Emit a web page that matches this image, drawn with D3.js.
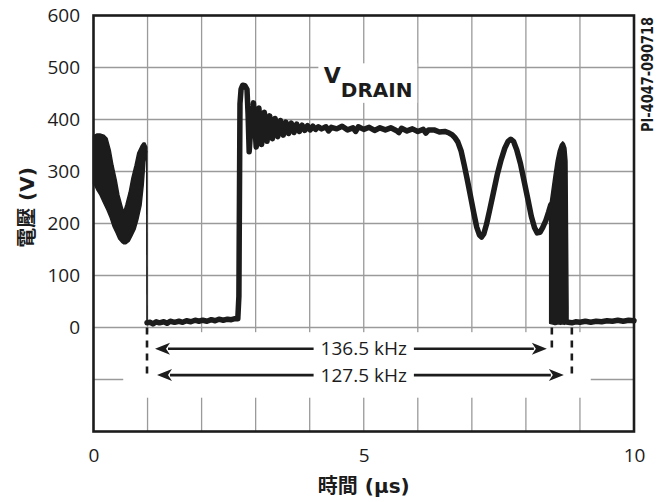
<!DOCTYPE html>
<html>
<head>
<meta charset="utf-8">
<script src="https://cdn.jsdelivr.net/npm/d3@7"></script>
<style>
  html, body { margin: 0; padding: 0; background: #fff; }
  svg { display: block; }
</style>
</head>
<body>
<svg id="chart" width="662" height="502"></svg>
<script>
// ---- Drain voltage trace (time in µs, voltage in V) ----
const traceTime = [
  0.99, 1.05, 1.10, 1.16, 1.22, 1.30, 1.36, 1.42, 1.50, 1.58, 1.65, 1.72, 1.80, 1.88, 1.95,
  2.02, 2.10, 2.18, 2.25, 2.32, 2.40, 2.48, 2.55, 2.62, 2.67,
  2.69, 2.71, 2.73, 2.76, 2.80, 2.84, 2.86, 2.88,
  2.92, 2.96, 3.01, 3.06, 3.11, 3.16, 3.21, 3.26, 3.31, 3.36, 3.41, 3.46, 3.51, 3.56, 3.61,
  3.66, 3.71, 3.76, 3.81, 3.86, 3.91, 3.96, 4.01, 4.06, 4.11, 4.16, 4.22,
  4.30, 4.35, 4.40, 4.50, 4.60, 4.70, 4.80, 4.85, 4.90, 5.00, 5.10, 5.20, 5.30, 5.40, 5.50,
  5.60, 5.65, 5.70, 5.80, 5.90, 6.00, 6.10, 6.15, 6.20, 6.30, 6.40, 6.50, 6.58, 6.63, 6.68,
  6.74, 6.80, 6.86, 6.92, 6.98, 7.04, 7.09, 7.14, 7.18, 7.22, 7.27, 7.33, 7.40, 7.47, 7.54,
  7.61, 7.67, 7.72, 7.77, 7.83, 7.90, 7.97, 8.04, 8.10, 8.16, 8.21, 8.26, 8.31, 8.37, 8.42, 8.46
];
const traceVolt = [
  9, 10, 7, 11, 9, 11, 8, 12, 10, 12, 10, 13, 11, 14, 12,
  14, 12, 15, 13, 16, 14, 16, 15, 17, 17,
  60, 430, 458, 466, 465, 458, 410, 338,
  398, 432, 347, 422, 352, 414, 358, 407, 363, 402, 367, 398, 370, 395, 373,
  393, 375, 391, 377, 389, 379, 388, 380, 387, 381, 386, 382,
  386, 378, 385, 382, 387, 380, 384, 377, 386, 381, 385, 379, 384, 380, 384,
  379, 375, 383, 378, 382, 377, 381, 374, 380, 380, 376, 377, 374, 371, 366,
  357, 340, 312, 282, 250, 218, 193, 178, 174, 180, 198, 226, 260, 294, 322,
  345, 358, 362, 358, 342, 315, 280, 245, 214, 192, 182, 183, 192, 206, 222, 236
];

// Trace after the turn-off ringing
const tailTime = [8.78, 8.85, 8.92, 9.00, 9.10, 9.20, 9.30, 9.40, 9.50, 9.60, 9.70, 9.80, 9.90, 10.0];
const tailVolt = [10, 9, 11, 10, 12, 10, 12, 11, 13, 12, 14, 12, 14, 13];

// Fast turn-off edge at the start of the on-time
const edgeTime = [0.985, 0.99];
const edgeVolt = [340, 9];

// High-frequency ringing envelopes (upper / lower bounds)
const ringATime = [0.00, 0.02, 0.065, 0.12, 0.19, 0.25, 0.31, 0.36, 0.42, 0.47, 0.53, 0.56,
                   0.60, 0.66, 0.71, 0.77, 0.82, 0.88, 0.92, 0.95, 0.985];
const ringAHigh = [368, 370, 372, 372, 370, 364, 341, 312, 284, 255, 232, 222,
                   236, 260, 287, 312, 336, 349, 355, 355, 347];
const ringALow  = [276, 274, 264, 255, 239, 226, 211, 195, 182, 170, 163, 161,
                   161, 166, 176, 189, 207, 235, 274, 318, 340];

const ringBTime = [8.44, 8.48, 8.52, 8.56, 8.60, 8.64, 8.68, 8.71, 8.74, 8.76, 8.78];
const ringBHigh = [232, 262, 292, 320, 340, 352, 357, 354, 345, 320, 40];
const ringBLow  = [8, 7, 6, 6, 7, 6, 7, 6, 7, 8, 8];

// Axis ticks
const xTicks = [0, 5, 10];
const yTicks = [0, 100, 200, 300, 400, 500, 600];
const xGrid = [1, 2, 3, 4, 5, 6, 7, 8, 9];
const yGrid = [-100, 0, 100, 200, 300, 400, 500];

// Switching-period cursors and their frequency labels
const cursorTime = [0.99, 8.48, 8.85];
const cursorDepth = [-97, -49, -97];
const freqLabels = ["136.5 kHz", "127.5 kHz"];
const freqEnd = [8.48, 8.85];

// ---- Drawing ----
const svg = d3.select("#chart");
const ink = "#1c1c1c";
const x = d3.scaleLinear().domain([0, 10]).range([93.5, 634]);
const y = d3.scaleLinear().domain([-200, 600]).range([431.5, 15.5]);

const grid = svg.append("g").attr("stroke", "#9a9a9a").attr("stroke-width", 1.3);
grid.selectAll("line.v").data(xGrid).join("line")
  .attr("x1", d => x(d)).attr("x2", d => x(d))
  .attr("y1", y(600)).attr("y2", y(-200));
grid.selectAll("line.h").data(yGrid).join("line")
  .attr("x1", x(0)).attr("x2", x(10))
  .attr("y1", d => y(d)).attr("y2", d => y(d));

// Clear band under the zero line for the period annotations
svg.append("rect")
  .attr("x", x(0.55)).attr("y", y(-9))
  .attr("width", x(9.2) - x(0.55)).attr("height", y(-135) - y(-9))
  .attr("fill", "#fff");

// Clear patch behind the V_DRAIN label
svg.append("rect")
  .attr("x", x(4.16)).attr("y", y(508))
  .attr("width", x(5.99) - x(4.16)).attr("height", y(432) - y(508))
  .attr("fill", "#fff");

// Frame
svg.append("rect")
  .attr("x", x(0)).attr("y", y(600))
  .attr("width", x(10) - x(0)).attr("height", y(-200) - y(600))
  .attr("fill", "none").attr("stroke", ink).attr("stroke-width", 2.6);

// Ringing envelopes
const band = d3.area().x(d => x(d[0])).y0(d => y(d[2])).y1(d => y(d[1]));
[[ringATime, ringAHigh, ringALow], [ringBTime, ringBHigh, ringBLow]].forEach(([t, hi, lo]) => {
  svg.append("path")
    .datum(t.map((d, i) => [d, hi[i], lo[i]]))
    .attr("d", band)
    .attr("fill", ink).attr("stroke", ink).attr("stroke-width", 1.5)
    .attr("stroke-linejoin", "round");
});

const line = d3.line().x(d => x(d[0])).y(d => y(d[1]));
svg.append("path")
  .datum(edgeTime.map((d, i) => [d, edgeVolt[i]]))
  .attr("d", line).attr("fill", "none").attr("stroke", ink).attr("stroke-width", 1.6);

[[traceTime, traceVolt], [tailTime, tailVolt]].forEach(([t, v]) => {
  svg.append("path")
    .datum(t.map((d, i) => [d, v[i]]))
    .attr("d", line)
    .attr("fill", "none").attr("stroke", ink).attr("stroke-width", 5.5)
    .attr("stroke-linejoin", "round").attr("stroke-linecap", "round");
});

// Cursor lines
svg.append("g").selectAll("line").data(cursorTime).join("line")
  .attr("x1", d => x(d)).attr("x2", d => x(d))
  .attr("y1", y(0)).attr("y2", (d, i) => y(cursorDepth[i]))
  .attr("stroke", ink).attr("stroke-width", 2.6).attr("stroke-dasharray", "7,6");

// Frequency arrows
const rowLevel = [-41, -91.5];
const textFont = "'Open Sans', 'DejaVu Sans', sans-serif";
freqLabels.forEach((label, i) => {
  const yy = y(rowLevel[i]);
  const g = svg.append("g");
  const txt = g.append("text")
    .attr("x", x(5)).attr("y", yy).attr("dy", "0.35em")
    .attr("text-anchor", "middle")
    .attr("font-family", textFont).attr("font-size", 19).attr("fill", ink)
    .text(label);
  const half = txt.node().getComputedTextLength() / 2;
  const leftTip = x(cursorTime[0]) + 8 + (i ? 2 : 0);
  const rightTip = x(freqEnd[i]) - (i ? 8 : 5);
  const gap = 7, head = 15, hw = 6;
  g.append("line").attr("x1", leftTip + head - 2).attr("x2", x(5) - half - gap)
    .attr("y1", yy).attr("y2", yy).attr("stroke", ink).attr("stroke-width", 2.6);
  g.append("line").attr("x1", x(5) + half + gap).attr("x2", rightTip - head + 2)
    .attr("y1", yy).attr("y2", yy).attr("stroke", ink).attr("stroke-width", 2.6);
  g.append("path")
    .attr("d", `M${leftTip},${yy}L${leftTip + head},${yy - hw}L${leftTip + head - 4},${yy}L${leftTip + head},${yy + hw}Z`)
    .attr("fill", ink);
  g.append("path")
    .attr("d", `M${rightTip},${yy}L${rightTip - head},${yy - hw}L${rightTip - head + 4},${yy}L${rightTip - head},${yy + hw}Z`)
    .attr("fill", ink);
});

// Axes (labels only)
const yAxis = svg.append("g").attr("transform", `translate(${x(0)},0)`)
  .call(d3.axisLeft(y).tickValues(yTicks).tickSize(0).tickPadding(13.5).tickFormat(d3.format("d")));
const xAxis = svg.append("g").attr("transform", `translate(0,${y(-200)})`)
  .call(d3.axisBottom(x).tickValues(xTicks).tickSize(0).tickPadding(17).tickFormat(d3.format("d")));
[yAxis, xAxis].forEach(a => {
  a.select(".domain").remove();
  a.selectAll("text").attr("font-family", textFont).attr("font-size", 19).attr("fill", ink);
});

// Titles
const boldFont = "'DejaVu Sans', 'Noto Sans CJK TC', sans-serif";
svg.append("text")
  .attr("x", x(5)).attr("y", 493)
  .attr("text-anchor", "middle")
  .attr("font-family", boldFont).attr("font-weight", "bold").attr("font-size", 20).attr("fill", ink)
  .text("時間 (μs)");
svg.append("text")
  .attr("transform", "translate(27,207.5) rotate(-90)")
  .attr("text-anchor", "middle").attr("dy", "0.35em")
  .attr("font-family", boldFont).attr("font-weight", "bold").attr("font-size", 20).attr("fill", ink)
  .text("電壓 (V)");

// Trace name
const vName = svg.append("text")
  .attr("x", x(4.26)).attr("y", 83)
  .attr("font-family", "'DejaVu Sans', sans-serif").attr("font-weight", "bold")
  .attr("font-size", 22).attr("fill", ink)
  .text("V");
vName.append("tspan").attr("dy", 14).attr("font-size", 20).text("DRAIN");

// Figure id
svg.append("text")
  .attr("transform", "translate(648,74.5) rotate(-90)")
  .attr("text-anchor", "middle").attr("dy", "0.36em")
  .attr("font-family", "'DejaVu Sans', sans-serif").attr("font-weight", "bold")
  .attr("font-size", 15).attr("fill", ink)
  .attr("textLength", 115).attr("lengthAdjust", "spacingAndGlyphs")
  .text("PI-4047-090718");
</script>
</body>
</html>
